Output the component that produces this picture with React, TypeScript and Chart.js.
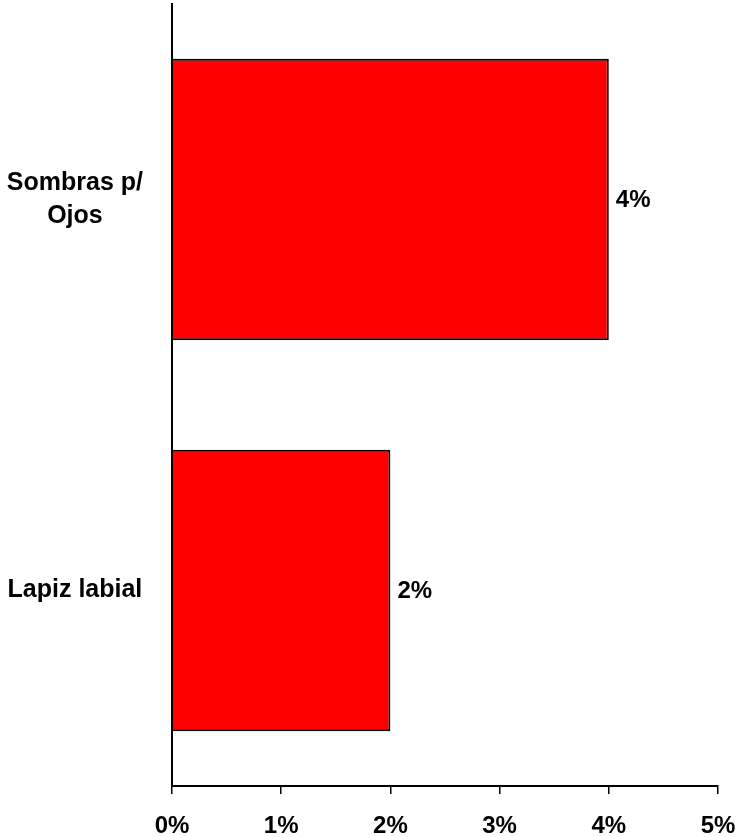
import React, { useEffect, useRef } from "react";
import { Chart, registerables } from "chart.js";

Chart.register(...registerables);

const categories: (string | string[])[] = [["Sombras p/", "Ojos"], "Lapiz labial"];
const values: number[] = [4, 2];
const tickValues: number[] = [0, 1, 2, 3, 4, 5];
const FONT = "'Liberation Sans', Arial, sans-serif";

const dataLabels = {
  id: "dataLabels",
  afterDatasetsDraw(chart: any) {
    const { ctx } = chart;
    const meta = chart.getDatasetMeta(0);
    ctx.save();
    ctx.font = `bold 24px ${FONT}`;
    ctx.fillStyle = "#000";
    ctx.textAlign = "left";
    ctx.textBaseline = "middle";
    meta.data.forEach((bar: any, i: number) => {
      ctx.fillText(`${values[i]}%`, bar.x + 7, bar.y + 1);
    });
    ctx.restore();
  },
};

export default function App() {
  const ref = useRef<HTMLCanvasElement | null>(null);
  useEffect(() => {
    if (!ref.current) return;
    const chart = new Chart(ref.current, {
      type: "bar",
      data: {
        labels: categories,
        datasets: [
          {
            data: values,
            backgroundColor: "#ff0000",
            borderColor: "#000000",
            borderWidth: 2,
            categoryPercentage: 0.72,
            barPercentage: 1,
          },
        ],
      },
      options: {
        indexAxis: "y",
        animation: false,
        responsive: false,
        maintainAspectRatio: false,
        layout: { padding: { top: 4, right: 20, left: 0, bottom: 0 } },
        plugins: { legend: { display: false }, tooltip: { enabled: false } },
        scales: {
          x: {
            min: 0,
            max: 5,
            afterBuildTicks: (scale: any) => {
              scale.ticks = tickValues.map((v) => ({ value: v }));
            },
            afterFit: (scale: any) => {
              scale.height = 51;
              scale.paddingLeft = 0;
              scale.paddingRight = 0;
            },
            border: { display: true, color: "#000", width: 2 },
            grid: {
              display: true,
              drawOnChartArea: false,
              drawTicks: true,
              tickLength: 8,
              color: "#000",
              lineWidth: 1.5,
            },
            ticks: {
              color: "#000",
              font: { family: FONT, size: 24, weight: "bold" },
              padding: 18,
              maxRotation: 0,
              callback: (v: any) => `${v}%`,
            },
          },
          y: {
            afterFit: (scale: any) => {
              scale.width = 172;
              scale.paddingTop = 0;
              scale.paddingBottom = 0;
            },
            border: { display: true, color: "#000", width: 2 },
            grid: { display: false },
            ticks: {
              color: "#000",
              crossAlign: "center",
              padding: 21,
              font: { family: FONT, size: 25, weight: "bold", lineHeight: 1.32 },
            },
          },
        },
      },
      plugins: [dataLabels],
    });
    return () => chart.destroy();
  }, []);
  return (
    <div style={{ position: "fixed", left: 0, top: 0, width: 738, height: 837, background: "#fff" }}>
      <canvas ref={ref} width={738} height={837} style={{ width: 738, height: 837 }} />
    </div>
  );
}
